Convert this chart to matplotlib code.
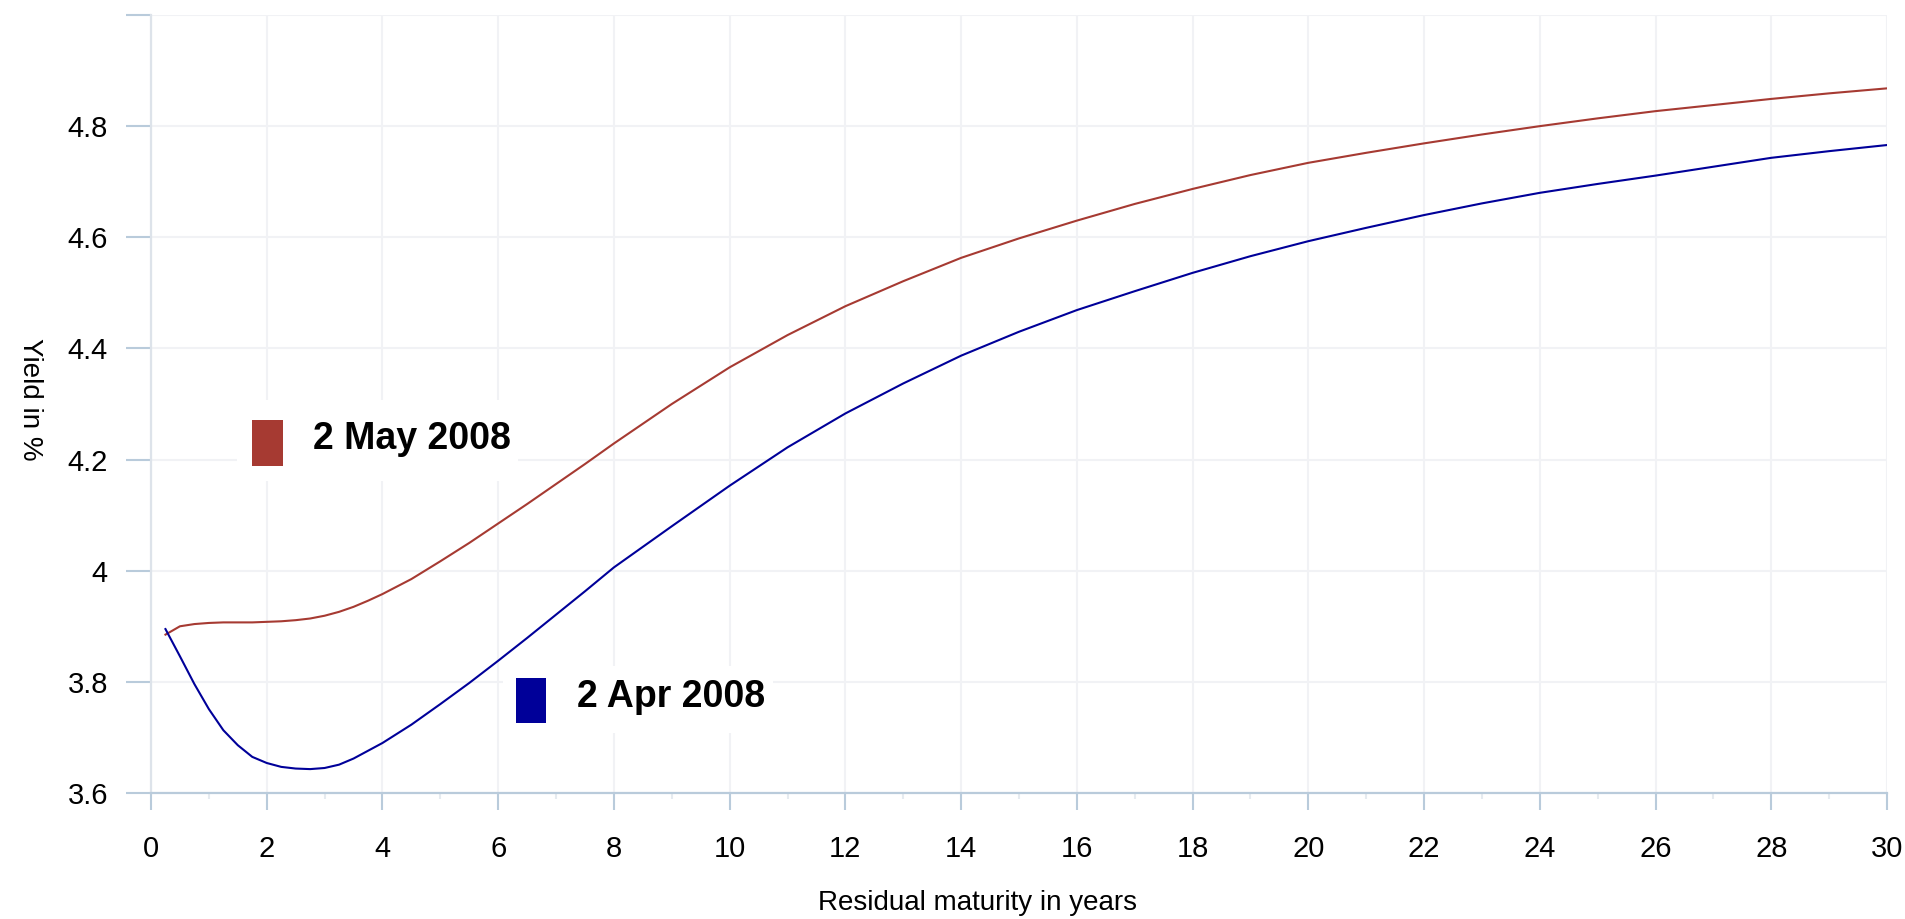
"""Yield curves for two dates (residual maturity vs yield)."""
import matplotlib
matplotlib.use("Agg")
import matplotlib.pyplot as plt
from matplotlib.patches import Rectangle
from matplotlib.ticker import MultipleLocator, FixedLocator

plt.rcParams["font.family"] = ["Liberation Sans", "DejaVu Sans"]

# Residual maturity in years
maturity = [0.25, 0.5, 0.75, 1, 1.25, 1.5, 1.75, 2, 2.25, 2.5, 2.75, 3, 3.25, 3.5,
            3.75, 4, 4.5, 5, 5.5, 6, 6.5, 7, 7.5, 8, 9, 10, 11, 12, 13, 14, 15,
            16, 17, 18, 19, 20, 21, 22, 23, 24, 25, 26, 27, 28, 29, 30]

# Yield in % on 2 May 2008
yield_may = [3.885, 3.900, 3.904, 3.906, 3.907, 3.907, 3.907, 3.908, 3.909, 3.911,
             3.914, 3.919, 3.926, 3.935, 3.946, 3.958, 3.985, 4.017, 4.050, 4.085,
             4.120, 4.156, 4.192, 4.229, 4.300, 4.366, 4.424, 4.476, 4.521, 4.563,
             4.598, 4.630, 4.660, 4.687, 4.712, 4.734, 4.752, 4.769, 4.785, 4.800,
             4.814, 4.827, 4.838, 4.849, 4.859, 4.868]

# Yield in % on 2 Apr 2008
yield_apr = [3.895, 3.846, 3.796, 3.751, 3.713, 3.686, 3.665, 3.654, 3.647, 3.644,
             3.643, 3.645, 3.651, 3.662, 3.676, 3.690, 3.723, 3.760, 3.798, 3.838,
             3.879, 3.921, 3.963, 4.006, 4.080, 4.153, 4.222, 4.283, 4.337, 4.387,
             4.430, 4.469, 4.503, 4.536, 4.566, 4.593, 4.617, 4.640, 4.661, 4.680,
             4.696, 4.711, 4.727, 4.743, 4.755, 4.766]

series_labels = ["2 May 2008", "2 Apr 2008"]
series_colors = ["#a63a32", "#000099"]

y_ticks = [3.6, 3.8, 4.0, 4.2, 4.4, 4.6, 4.8, 5.0]
y_tick_labels = ["3.6", "3.8", "4", "4.2", "4.4", "4.6", "4.8", ""]

AXIS_BLUE = "#b9cbdb"
GRID = "#f1f2f5"

fig = plt.figure(figsize=(19.06, 9.19), dpi=100)
ax = fig.add_axes([151 / 1906, 1 - 793 / 919, 1736 / 1906, 778 / 919])
ax.set_axisbelow(True)

ax.plot(maturity, yield_may, color=series_colors[0], lw=1.5, zorder=3)
ax.plot(maturity, yield_apr, color=series_colors[1], lw=1.5, zorder=3)

ax.set_xlim(0, 30)
ax.set_ylim(3.6, 5.0)

# ticks
ax.xaxis.set_major_locator(MultipleLocator(2))
ax.xaxis.set_minor_locator(FixedLocator(list(range(1, 30, 2))))
ax.yaxis.set_major_locator(FixedLocator(y_ticks))
ax.set_yticklabels(y_tick_labels)
ax.yaxis.set_minor_locator(FixedLocator([3.7, 3.9, 4.1, 4.3, 4.5, 4.7, 4.9]))

ax.tick_params(axis="x", which="major", length=12, width=1.5, color=AXIS_BLUE,
               labelsize=21, pad=18)
ax.tick_params(axis="x", which="minor", length=4, width=1.5, color="#e6ebf0")
ax.tick_params(axis="y", which="major", length=18, width=1.5, color=AXIS_BLUE,
               labelsize=21, pad=13)
ax.tick_params(axis="y", which="minor", length=4, width=1.5, color="white",
               direction="inout")

ax.grid(True, which="major", color=GRID, lw=1.5)

for side in ("top", "right"):
    ax.spines[side].set_visible(False)
ax.spines["left"].set_color("#dde3ea")
ax.spines["left"].set_linewidth(1.6)
ax.spines["bottom"].set_color(AXIS_BLUE)
ax.spines["bottom"].set_linewidth(1.6)

ax.set_xlabel("Residual maturity in years", fontsize=20, va="center")
ax.xaxis.set_label_coords(0.476, -0.141)
ax.set_ylabel("Yield in %", fontsize=20, rotation=270, va="center")
ax.yaxis.set_label_coords(-0.0697, 0.506)

# direct labels: white backing box, colour swatch, bold text
labels_layout = [
    # box (x, y, w, h), swatch (x, y, w, h), text (x, y)
    ((0.0495, 0.401, 0.162, 0.104), (0.0582, 0.4203, 0.0179, 0.0591), (0.0933, 0.455)),
    ((0.2028, 0.0771, 0.1555, 0.0861), (0.2103, 0.0900, 0.0173, 0.0578), (0.2454, 0.1234)),
]
for label, color, (box, sw, txt) in zip(series_labels, series_colors, labels_layout):
    ax.add_patch(Rectangle(box[:2], box[2], box[3], transform=ax.transAxes,
                           facecolor="white", edgecolor="none", zorder=1))
    ax.add_patch(Rectangle(sw[:2], sw[2], sw[3], transform=ax.transAxes,
                           facecolor=color, edgecolor="none", zorder=4))
    ax.text(txt[0], txt[1], label, transform=ax.transAxes, fontsize=27,
            fontweight="bold", ha="left", va="center", zorder=4)

fig.savefig("out.png", dpi=100, facecolor="white")
